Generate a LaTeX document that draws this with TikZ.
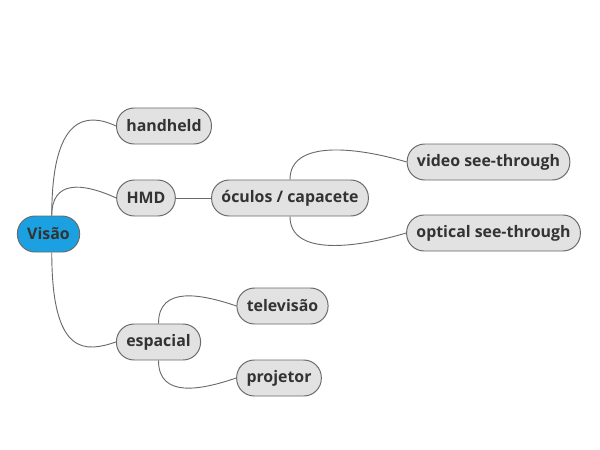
\documentclass[tikz,border=0pt]{standalone}
\usepackage{fontspec}
\setmainfont{Open Sans}
\usetikzlibrary{calc}

\definecolor{rootblue}{HTML}{1BA1E2}
\definecolor{leafgray}{HTML}{E2E2E2}
\definecolor{edgegray}{HTML}{6A6A6A}
\definecolor{textgray}{HTML}{333333}

\tikzset{
  topic/.style={draw=edgegray, fill=leafgray, line width=0.7pt, rounded corners=12.5pt,
    minimum height=25.6pt, inner xsep=7pt, text=textgray,
    font=\fontsize{11.3}{13}\selectfont\bfseries},
  roottopic/.style={topic, fill=rootblue},
  branch/.style={draw=edgegray, line width=0.65pt},
}

\begin{document}
\begin{tikzpicture}[x=0.025cm, y=-0.025cm]
\useasboundingbox[fill=white] (0,0) rectangle (600,449);
% topics
\node[roottopic] (visao) at (48.5,234) {Visão};
\node[topic] (handheld) at (164,126) {handheld};
\node[topic] (hmd) at (146,198) {HMD};
\node[topic] (oculos) at (290,198) {óculos / capacete};
\node[topic] (video) at (488.5,162) {video see-through};
\node[topic] (optical) at (493.5,233) {optical see-through};
\node[topic] (espacial) at (158.5,342) {espacial};
\node[topic] (tv) at (282.5,306) {televisão};
\node[topic] (projetor) at (279,378) {projetor};
% branches
\draw[branch] (visao.80) .. controls +(0,-100) and +(-30,-14) .. (handheld.west);
\draw[branch] (visao.80) .. controls +(0,-35) and +(-35,-16) .. (hmd.west);
\draw[branch] (visao.280) .. controls +(0,105) and +(-30,10) .. (espacial.west);
\draw[branch] (hmd.east) -- (oculos.west);
\draw[branch] (oculos.north) .. controls +(0,-40) and +(-50,-15) .. (video.west);
\draw[branch] (oculos.south) .. controls +(0,40) and +(-50,15) .. (optical.west);
\draw[branch] (espacial.north) .. controls +(0,-38) and +(-35,-12) .. (tv.west);
\draw[branch] (espacial.south) .. controls +(0,38) and +(-35,12) .. (projetor.west);
\end{tikzpicture}
\end{document}
